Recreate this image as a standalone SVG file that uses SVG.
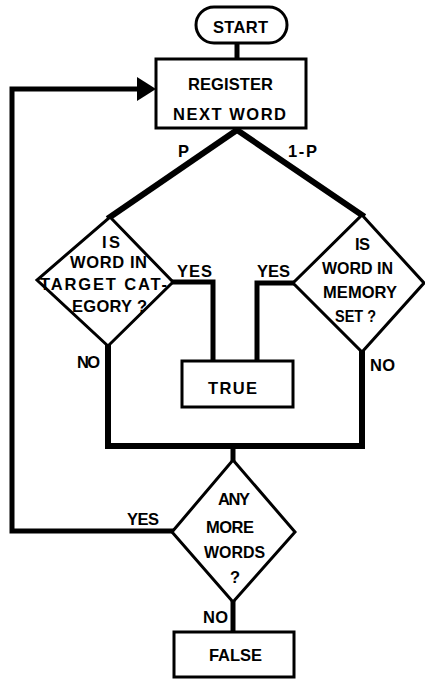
<svg xmlns="http://www.w3.org/2000/svg" width="425" height="679" viewBox="0 0 425 679">
<style>
.node{fill:#fff;stroke:#000;stroke-width:3}
.conn{fill:none;stroke:#000;stroke-width:5;stroke-linejoin:miter;stroke-linecap:square}
.br{stroke-width:6}
text{font-family:"Liberation Sans",Arial,sans-serif;font-weight:bold;font-size:16.5px;fill:#000}
</style>
<rect width="425" height="679" fill="#fff"/>
<g id="connectors">
<line class="conn" x1="237" y1="44" x2="237" y2="58"/>
<line class="conn br" x1="237" y1="130" x2="110" y2="217"/>
<line class="conn br" x1="237" y1="130" x2="362" y2="215"/>
<polyline class="conn" points="173,282 213,282 213,361"/>
<polyline class="conn" points="293,283 257,283 257,361"/>
<polyline class="conn br" points="108,347 108,446 362,446 362,353"/>
<line class="conn" x1="233" y1="446" x2="233" y2="460"/>
<polyline class="conn" points="172,531 12,531 12,89 140,89"/>
<polygon points="137,77 156,89 137,101" fill="#000"/>
<line class="conn" x1="233" y1="602" x2="233" y2="631"/>
<text x="178" y="157" textLength="9">P</text>
<text x="288" y="157" textLength="29">1-P</text>
<text x="177" y="277" textLength="35">YES</text>
<text x="257" y="277" textLength="33">YES</text>
<text x="77" y="368" textLength="23">NO</text>
<text x="370" y="371" textLength="25">NO</text>
<text x="127" y="525" textLength="32">YES</text>
<text x="203" y="623" textLength="25">NO</text>
</g>
<g id="start">
<rect class="node" x="196" y="7" width="91" height="36" rx="18"/>
<text x="213" y="33" textLength="55">START</text>
</g>
<g id="register">
<rect class="node" x="156" y="59" width="150" height="69"/>
<text x="188" y="90" textLength="85">REGISTER</text>
<text x="173" y="120" textLength="113">NEXT  WORD</text>
</g>
<g id="target">
<polygon class="node" points="110,217 173,282 108,346 37,280"/>
<text x="102" y="248" textLength="18">IS</text>
<text x="70" y="268" textLength="77">WORD IN</text>
<text x="40" y="290" textLength="127">TARGET CAT-</text>
<text x="72" y="312" textLength="75">EGORY ?</text>
</g>
<g id="memory">
<polygon class="node" points="362,215 424,283 362,352 293,283"/>
<text x="355" y="250" textLength="15">IS</text>
<text x="322" y="274" textLength="71" lengthAdjust="spacingAndGlyphs">WORD IN</text>
<text x="323" y="298" textLength="74">MEMORY</text>
<text x="335" y="322" textLength="41" lengthAdjust="spacingAndGlyphs">SET ?</text>
</g>
<g id="true">
<rect class="node" x="182" y="361" width="111" height="46"/>
<text x="208" y="394" textLength="49">TRUE</text>
</g>
<g id="more">
<polygon class="node" points="233,460 295,532 233,602 172,532"/>
<text x="218" y="505" textLength="32">ANY</text>
<text x="206" y="533" textLength="48">MORE</text>
<text x="204" y="558" textLength="61" lengthAdjust="spacingAndGlyphs">WORDS</text>
<text x="230" y="583">?</text>
</g>
<g id="false">
<rect class="node" x="174" y="632" width="120" height="45"/>
<text x="209" y="661" textLength="53">FALSE</text>
</g>
</svg>
